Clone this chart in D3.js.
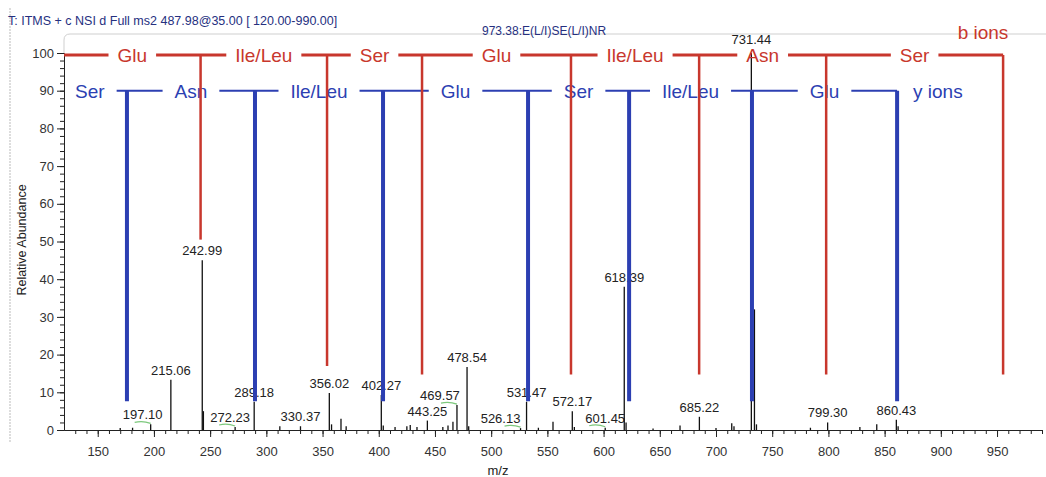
<!DOCTYPE html>
<meta charset="utf-8">
<style>
body { margin: 0; background: #fff; }
svg text { font-family: Arial, "Liberation Sans", sans-serif; }
.tick text { fill: #333; font-size: 13px; }
</style>
<body>
<script src="https://cdnjs.cloudflare.com/ajax/libs/d3/7.8.5/d3.min.js"></script>
<script>
// spectrum: m/z and relative abundance of each centroid
var peakMz  = [170, 181, 197.10, 215.06, 242.99, 244.0, 272.23, 289.18, 312, 330.37,
               356.02, 358, 366.4, 371, 402.27, 404, 414.5, 425, 428, 434,
               443.25, 457, 461.6, 466, 469.57, 478.54, 480, 526.13, 531.47, 542,
               555, 572.17, 574, 601.45, 618.39, 620, 644, 668, 685.22, 700,
               714, 716, 731.44, 734.2, 736, 784, 799.30, 828, 843, 860.43, 862];
var peakInt = [0.5, 0.6, 1.5, 13.3, 45, 5, 0.8, 7.5, 1, 1,
               9.8, 1.5, 3, 1, 9.3, 1.2, 0.8, 1, 1.3, 0.8,
               2.5, 0.8, 1.2, 2.2, 6.6, 16.7, 1, 0.5, 7.5, 0.6,
               2.2, 5, 0.8, 0.6, 38, 2, 0.4, 1.2, 3.5, 0.5,
               1.8, 1.0, 100, 32, 1.5, 0.6, 2, 0.8, 1.5, 2.7, 1];
var labelledMz = [197.10, 215.06, 242.99, 272.23, 289.18, 330.37, 356.02, 402.27, 443.25, 469.57,
                  478.54, 526.13, 531.47, 572.17, 601.45, 618.39, 685.22, 731.44, 799.30, 860.43];
var flaggedMz = [197.10, 272.23, 469.57, 526.13, 601.45];

// b ion ladder (red)
var bIonMz   = [241.5, 354, 438.5, 571, 685, 798, 955.4];
var bIonRes  = ["Glu", "Ile/Leu", "Ser", "Glu", "Ile/Leu", "Asn", "Ser"];
var bIonDrop = [50.5, 17, 14.7, 14.7, 14.7, 14.7, 14.7];
// y ion ladder (blue)
var yIonMz   = [176.0, 289.9, 403.8, 532.8, 622.7, 732.0, 861.1];
var yIonRes  = ["Ser", "Asn", "Ile/Leu", "Glu", "Ser", "Ile/Leu", "Glu"];
var yIonDrop = [7.6, 7.6, 7.6, 7.6, 7.6, 7.6, 7.6];

var xTicks = [150, 200, 250, 300, 350, 400, 450, 500, 550, 600, 650, 700, 750, 800, 850, 900, 950];
var yTicks = [0, 10, 20, 30, 40, 50, 60, 70, 80, 90, 100];

var W = 1046, H = 477;
var red = "#c8372d", blue = "#2c3fb2", navy = "#26307f";

var svg = d3.select("body").append("svg").attr("width", W).attr("height", H);

var x = d3.scaleLinear().domain([120, 990]).range([64, 1042]);
var y = d3.scaleLinear().domain([0, 100]).range([430, 53]);

// window frame bits
svg.append("line").attr("x1", 10).attr("x2", 10).attr("y1", 8).attr("y2", 442)
  .attr("stroke", "#bbb").attr("stroke-dasharray", "2,1");
svg.append("path").attr("d", "M64,53 V40 Q64,34 70,34 H1046")
  .attr("fill", "none").attr("stroke", "#cfcfcf");

svg.append("text").attr("x", 8).attr("y", 25).attr("font-size", 12.5).attr("fill", navy)
  .text("T: ITMS + c NSI d Full ms2 487.98@35.00 [ 120.00-990.00]");
svg.append("text").attr("x", 482).attr("y", 35).attr("font-size", 12).attr("fill", navy)
  .text("973.38:E(L/I)SE(L/I)NR");

// axes
svg.append("g").attr("transform", "translate(64,0)")
  .call(d3.axisLeft(y).tickValues(d3.range(0, 101, 2)).tickSize(4).tickFormat("").tickSizeOuter(0));
svg.append("g").attr("transform", "translate(64,0)")
  .call(d3.axisLeft(y).tickValues(yTicks).tickSize(7).tickPadding(3).tickSizeOuter(0));
svg.append("g").attr("transform", "translate(0,430)")
  .call(d3.axisBottom(x).tickValues(d3.range(130, 991, 10)).tickSize(4).tickFormat("").tickSizeOuter(0));
svg.append("g").attr("transform", "translate(0,430)")
  .call(d3.axisBottom(x).tickValues(xTicks).tickSize(7).tickPadding(10).tickSizeOuter(0));
svg.selectAll(".domain").attr("stroke", "#222");
svg.selectAll(".tick line").attr("stroke", "#222");

svg.append("text").attr("transform", "translate(26,240) rotate(-90)")
  .attr("text-anchor", "middle").attr("font-size", 12.5).attr("fill", "#222")
  .text("Relative Abundance");
svg.append("text").attr("x", 498).attr("y", 475).attr("text-anchor", "middle")
  .attr("font-size", 13).attr("fill", "#222").text("m/z");

// peak labels
var peaks = peakMz.map(function(m, i) { return {mz: m, ab: peakInt[i]}; });
var nudge = {"197.10": -8, "272.23": -5, "469.57": -17, "526.13": -20};
var lab = peaks.filter(function(d) { return labelledMz.indexOf(d.mz) >= 0; });
svg.append("g").selectAll("text").data(lab).enter().append("text")
  .attr("x", function(d) { return x(d.mz) + (nudge[d.mz.toFixed(2)] || 0); })
  .attr("y", function(d) { return y(d.ab) - (d.ab >= 100 ? 9 : 5); })
  .attr("text-anchor", "middle").attr("font-size", 13).attr("fill", "#222")
  .text(function(d) { return d.mz.toFixed(2); });
svg.append("g").selectAll("path").data(lab.filter(function(d) { return flaggedMz.indexOf(d.mz) >= 0; }))
  .enter().append("path")
  .attr("d", function(d) {
    var px = x(d.mz), py = y(d.ab) - 2;
    return "M" + (px - 16) + "," + py + " Q" + (px - 8) + "," + (py - 2) + " " + px + "," + (py + 1);
  })
  .attr("fill", "none").attr("stroke", "#7cc87c").attr("stroke-width", 1.2);

// stems
svg.append("g").selectAll("line").data(peaks).enter().append("line")
  .attr("x1", function(d) { return x(d.mz); }).attr("x2", function(d) { return x(d.mz); })
  .attr("y1", y(0)).attr("y2", function(d) { return y(d.ab); })
  .attr("stroke", "#111").attr("stroke-width", 1.3);

function ladder(mzs, res, drops, level, startMz, leadIn, color, gap, hw, vw) {
  var g = svg.append("g");
  var yy = y(level);
  var xs = mzs.map(x);
  var starts = [x(startMz)].concat(xs.slice(0, -1));
  var texts = g.selectAll("text").data(res).enter().append("text")
    .attr("x", function(d, i) { return (starts[i] + xs[i]) / 2; })
    .attr("y", yy).attr("dy", "0.38em").attr("text-anchor", "middle")
    .attr("font-size", 19).attr("fill", color).text(function(d) { return d; });
  var brk = [];
  texts.each(function(d, i) {
    var w = this.getComputedTextLength(), c = (starts[i] + xs[i]) / 2;
    brk.push([c - w / 2 - gap, c + w / 2 + gap]);
  });
  var segs = [];
  if (leadIn) segs.push([x(startMz), brk[0][0]]);
  for (var i = 0; i < brk.length; i++) {
    var end = i + 1 < brk.length ? brk[i + 1][0] : xs[xs.length - 1];
    segs.push([brk[i][1], end]);
  }
  g.selectAll("line.h").data(segs).enter().append("line").attr("class", "h")
    .attr("x1", function(d) { return d[0]; }).attr("x2", function(d) { return d[1]; })
    .attr("y1", yy).attr("y2", yy).attr("stroke", color).attr("stroke-width", hw);
  g.selectAll("line.v").data(mzs).enter().append("line").attr("class", "v")
    .attr("x1", x).attr("x2", x).attr("y1", yy)
    .attr("y2", function(d, i) { return y(drops[i]); })
    .attr("stroke", color).attr("stroke-width", vw);
  return g;
}

ladder(yIonMz, yIonRes, yIonDrop, 90, 110, false, blue, 12, 2, 4);
ladder(bIonMz, bIonRes, bIonDrop, 99.5, 120, true, red, 9, 3, 2.5);

svg.append("text").attr("x", 983).attr("y", 32).attr("dy", "0.36em").attr("text-anchor", "middle")
  .attr("font-size", 19).attr("fill", red).text("b ions");
svg.append("text").attr("x", 913).attr("y", y(90)).attr("dy", "0.38em")
  .attr("font-size", 19).attr("fill", blue).text("y ions");
</script>
</body>
